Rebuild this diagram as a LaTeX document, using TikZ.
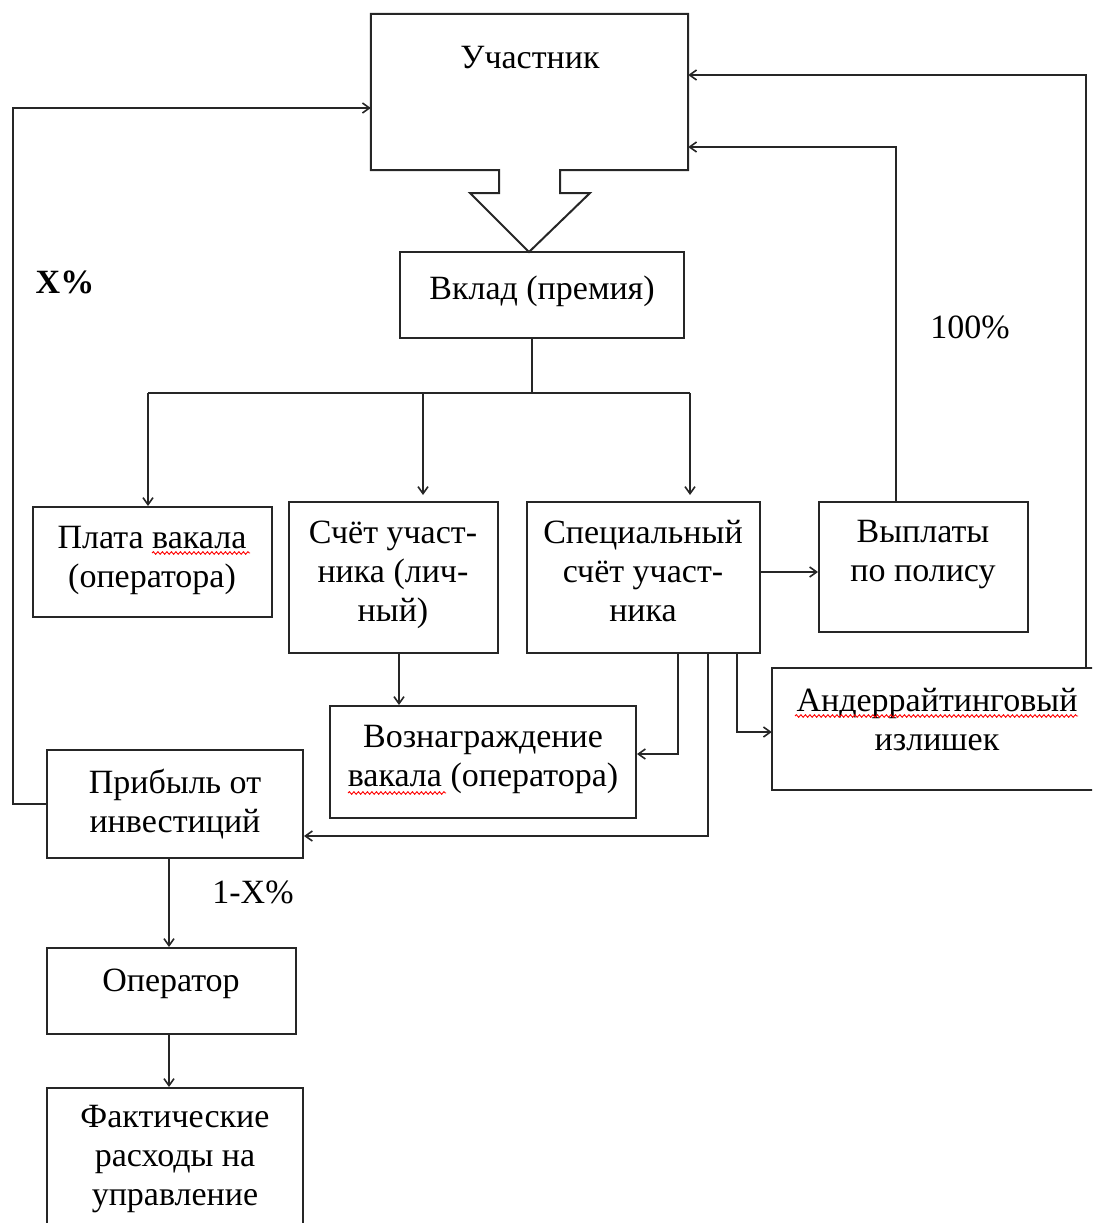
\documentclass[tikz,border=0pt]{standalone}
\usepackage{fontspec}
\setmainfont{Liberation Serif}
\usetikzlibrary{fit,arrows.meta,decorations.pathmorphing}
\begin{document}
\begin{tikzpicture}[x=1pt,y=-1pt,
  box/.style={draw=black!85,line width=2pt,inner sep=0pt},
  hidbox/.style={inner sep=0pt},
  txt/.style={font=\fontsize{34}{39}\selectfont,align=center,inner sep=0pt,anchor=north},
  lbl/.style={font=\fontsize{34}{39}\selectfont,inner sep=0pt},
  conn/.style={draw=black!85,line width=2pt},
  arr/.style={conn,-{Straight Barb[length=7pt,width=10pt,line width=1.6pt]}},
  wavy/.style={draw=red,line width=0.9pt,decorate,decoration={snake,amplitude=1.3pt,segment length=4.5pt}}]
\useasboundingbox (0,0) rectangle (1092,1223);
\clip (0,0) rectangle (1092,1223);

% boxes
\node[hidbox,fit={(371,14)(688,170)}] (uch) {};
\draw[conn,line join=miter] (uch.north west) -- (uch.north east) -- (uch.south east) -- (560,170) -- (560,193) -- (590,193) -- (529,252) -- (470,193) -- (499,193) -- (499,170) -- (uch.south west) -- cycle;
\node[box,fit={(400,252)(684,338)}] (vklad) {};
\node[box,fit={(33,507)(272,617)}] (plata) {};
\node[box,fit={(289,502)(498,653)}] (schet) {};
\node[box,fit={(527,502)(760,653)}] (spec) {};
\node[box,fit={(819,502)(1028,632)}] (vypl) {};
\node[hidbox,fit={(772,668)(1102,790)}] (ander) {};
\coordinate (redge) at (1095,0);
\draw[conn,line join=miter] (redge |- ander.north) -- (ander.north west) -- (ander.south west) -- (redge |- ander.south);
\node[box,fit={(330,706)(636,818)}] (vozn) {};
\node[box,fit={(47,750)(303,858)}] (prib) {};
\node[box,fit={(47,948)(296,1034)}] (oper) {};
\node[box,fit={(47,1088)(303,1260)}] (fakt) {};

% texts
\node[txt] (t-uch) at (530,46.5) {Участник};
\node[txt] (t-vklad) at (542,275.5) {Вклад (премия)};
\node[txt] (t-plata) at (152,526.5) {Плата вакала\\(оператора)};
\node[txt] (t-schet) at (393,520.5) {Счёт участ-\\ника (лич-\\ный)};
\node[txt] (t-spec) at (643,520.5) {Специальный\\счёт участ-\\ника};
\node[txt] (t-vypl) at (923,520.5) {Выплаты\\по полису};
\node[txt] (t-ander) at (937,688.5) {Андеррайтинговый\\излишек};
\node[txt] (t-vozn) at (483,725.5) {Вознаграждение\\вакала (оператора)};
\node[txt] (t-prib) at (175,768.5) {Прибыль от\\инвестиций};
\node[txt] (t-oper) at (171,968.5) {Оператор};
\node[txt] (t-fakt) at (175,1105.5) {Фактические\\расходы на\\управление};

% labels
\node[lbl,font=\fontsize{34}{39}\selectfont\bfseries] (l-x) at (65,282) {X\%};
\node[lbl] (l-100) at (970,327) {100\%};
\node[lbl] (l-1x) at (253,892) {1-X\%};

% spell-check underlines
\draw[wavy] (152,553) -- (250,553);
\draw[wavy] (795,716) -- (1078,716);
\draw[wavy] (348,793) -- (446,793);

% connectors
\coordinate (j0) at (532,393);
\coordinate (b1) at (148,393);
\coordinate (b2) at (423,393);
\coordinate (b3) at (690,393);
\draw[conn] (j0 |- vklad.south) -- (j0);
\draw[conn] (b1) -- (b3);
\draw[arr] (b1) -- (b1 |- plata.north);
\draw[arr,shorten >=6pt] (b2) -- (b2 |- schet.north);
\draw[arr,shorten >=6pt] (b3) -- (b3 |- spec.north);

\coordinate (c1) at (790,572);
\draw[arr] (spec.east |- c1) -- (vypl.west |- c1);

\coordinate (c2) at (896,147);
\draw[arr] (c2 |- vypl.north) -- (c2) -- (c2 -| uch.east);

\coordinate (c3) at (1086,75);
\draw[arr] (c3 |- ander.north) -- (c3) -- (c3 -| uch.east);

\coordinate (c4) at (13,804);
\coordinate (c5) at (13,108);
\draw[arr] (prib.west |- c4) -- (c4) -- (c5) -- (c5 -| uch.west);

\coordinate (d1) at (737,732);
\draw[arr] (d1 |- spec.south) -- (d1) -- (d1 -| ander.west);
\coordinate (d2) at (678,754);
\draw[arr] (d2 |- spec.south) -- (d2) -- (d2 -| vozn.east);
\coordinate (d3) at (708,836);
\draw[arr] (d3 |- spec.south) -- (d3) -- (d3 -| prib.east);

\coordinate (e1) at (399,680);
\draw[arr] (e1 |- schet.south) -- (e1 |- vozn.north);
\coordinate (e2) at (169,900);
\draw[arr] (e2 |- prib.south) -- (e2 |- oper.north);
\draw[arr] (e2 |- oper.south) -- (e2 |- fakt.north);
\end{tikzpicture}
\end{document}
